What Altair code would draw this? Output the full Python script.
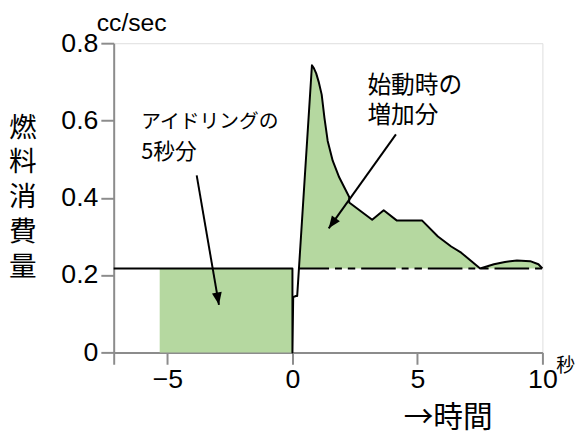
import altair as alt
import pandas as pd

IDLE = 0.217  # idling fuel flow (cc/sec)
X_MIN, X_MAX = -7.15, 10

# outline of the fuel-flow trace (seconds, cc/sec)
outline_x = [-7.15, 0.0, 0.0, 0.03, 0.14, 0.19, 0.78, 0.86, 0.95, 1.05, 1.17, 1.28, 1.41,
             1.61, 1.87, 2.27, 2.27, 3.19, 3.65, 4.18, 5.19, 5.82, 6.35, 6.75, 7.51,
             8.06, 8.5, 8.98, 9.51, 9.84, 10.0]
outline_y = [IDLE, IDLE, 0.0, 0.143, 0.146, 0.146, 0.743, 0.735, 0.722, 0.70, 0.667, 0.607, 0.547,
             0.496, 0.453, 0.402, 0.388, 0.343, 0.368, 0.341, 0.341, 0.30, 0.274, 0.258, 0.217,
             0.228, 0.234, 0.238, 0.236, 0.228, 0.217]

# start-up excess (filled above idle line)
excess_x = [0.26] + outline_x[6:]
excess_y = [IDLE] + outline_y[6:]

# 5 s of idling
idle_x = [-5.31, 0.0]

# dashed idle reference after start
base_x = [0.24, 10.0]

# arrows
arrow_x0 = [-3.83, 4.14]
arrow_y0 = [0.458, 0.564]
arrow_x1 = [-2.94, 1.45]
arrow_y1 = [0.123, 0.321]
arrow_ang = [170.2, 215.6]

# annotation texts
note_text = ["アイドリングの", "5秒分", "始動時の", "増加分"]
note_x = [-6.05, -6.05, 3.0, 3.0]
note_y = [0.596, 0.517, 0.69, 0.611]
note_size = [20, 22, 24, 24]

unit_text = ["cc/sec"]
unit_x = [-7.83]
unit_y = [0.8325]

sec_text = ["秒"]
sec_x = [10.93]
sec_y = [-0.035]

x_ticks = [X_MIN, -5, 0, 5, 10]
y_ticks = [0, 0.2, 0.4, 0.6, 0.8]

GREEN = "#b5d8a0"
AXIS_GRAY = "#8c8c8c"
JP = "Noto Sans CJK JP"
LAT = "Liberation Sans"

xs = alt.Scale(domain=[X_MIN, X_MAX], nice=False, zero=False)
ys = alt.Scale(domain=[0, 0.8], nice=False)

x_axis = alt.Axis(
    values=x_ticks, labelExpr="datum.value < -6 ? '' : format(datum.value, 'd')",
    grid=False, domainColor=AXIS_GRAY, domainWidth=2, tickColor=AXIS_GRAY, tickWidth=2,
    tickSize=12, labelPadding=3, labelFont=LAT, labelFontSize=27, labelColor="black",
    labelFlush=False, labelOverlap=False,
    title="→時間", titleFont=JP, titleFontSize=30, titleFontWeight="normal", titleColor="black",
    titleX=338, titleY=66, titleAlign="center", titleBaseline="middle", titleAnchor="start",
)
y_axis = alt.Axis(
    values=y_ticks, labelExpr="datum.value == 0 ? '0' : format(datum.value, '.1f')",
    grid=False, domainColor=AXIS_GRAY, domainWidth=2, tickColor=AXIS_GRAY, tickWidth=2,
    tickSize=13, labelPadding=3, labelFont=LAT, labelFontSize=27, labelColor="black",
    labelFlush=False, labelOverlap=False,
    title=["燃", "料", "消", "費", "量"], titleFont=JP, titleFontSize=28, titleFontWeight="normal",
    titleColor="black", titleAngle=0, titleX=-92.5, titleY=86, titleAlign="center",
    titleBaseline="middle", titleLineHeight=35.3, titleAnchor="start",
)

df_idle = pd.DataFrame({"x": idle_x, "y": [IDLE, IDLE], "y2": [0, 0]})
idle_area = alt.Chart(df_idle).mark_area(color=GREEN, opacity=1).encode(
    x=alt.X("x:Q", scale=xs, axis=x_axis),
    y=alt.Y("y:Q", scale=ys, axis=y_axis),
    y2="y2:Q",
)

df_exc = pd.DataFrame({"x": excess_x, "y": excess_y})
df_exc["y2"] = IDLE
excess_area = alt.Chart(df_exc).mark_area(color=GREEN, opacity=1).encode(
    x=alt.X("x:Q", scale=xs), y=alt.Y("y:Q", scale=ys), y2="y2:Q"
)

df_base = pd.DataFrame({"x": base_x, "y": [IDLE, IDLE]})
base_line = alt.Chart(df_base).mark_line(
    color="black", strokeWidth=2, strokeDash=[35, 6, 7, 6, 7.5, 6], strokeDashOffset=4
).encode(x=alt.X("x:Q", scale=xs), y=alt.Y("y:Q", scale=ys))

df_out = pd.DataFrame({"x": outline_x, "y": outline_y, "o": list(range(len(outline_x)))})
outline = alt.Chart(df_out).mark_line(color="black", strokeWidth=2, strokeJoin="round").encode(
    x=alt.X("x:Q", scale=xs), y=alt.Y("y:Q", scale=ys), order="o:Q"
)

df_arr = pd.DataFrame({"x0": arrow_x0, "y0": arrow_y0, "x1": arrow_x1, "y1": arrow_y1, "ang": arrow_ang})
arrow_shaft = alt.Chart(df_arr).mark_rule(color="black", strokeWidth=2).encode(
    x=alt.X("x0:Q", scale=xs), y=alt.Y("y0:Q", scale=ys), x2="x1:Q", y2="y1:Q"
)
arrow_head = alt.Chart(df_arr).mark_point(
    shape="M0,0 L0.5,1.25 L-0.5,1.25 Z", filled=True, color="black", opacity=1, size=400
).encode(
    x=alt.X("x1:Q", scale=xs), y=alt.Y("y1:Q", scale=ys), angle=alt.Angle("ang:Q", scale=None)
)

df_note = pd.DataFrame({"t": note_text, "x": note_x, "y": note_y, "s": note_size})
notes = alt.Chart(df_note).mark_text(
    font=JP, align="left", baseline="middle", color="black"
).encode(
    x=alt.X("x:Q", scale=xs), y=alt.Y("y:Q", scale=ys), text="t:N", size=alt.Size("s:Q", scale=None)
)

df_unit = pd.DataFrame({"t": unit_text, "x": unit_x, "y": unit_y})
unit = alt.Chart(df_unit).mark_text(
    font=LAT, fontSize=25, align="left", baseline="alphabetic", color="black"
).encode(x=alt.X("x:Q", scale=xs), y=alt.Y("y:Q", scale=ys), text="t:N")

df_sec = pd.DataFrame({"t": sec_text, "x": sec_x, "y": sec_y})
sec = alt.Chart(df_sec).mark_text(
    font=JP, fontSize=19, align="center", baseline="middle", color="black"
).encode(x=alt.X("x:Q", scale=xs), y=alt.Y("y:Q", scale=ys), text="t:N")

chart = alt.layer(
    idle_area, excess_area, base_line, outline, arrow_shaft, arrow_head, notes, unit, sec
).properties(
    width=434, height=313,
    padding={"left": 107, "top": 33, "right": 35, "bottom": 82},
    autosize=alt.AutoSizeParams(type="none"),
).configure_view(stroke=None).configure(background="white")

chart.save("out.html", embed_options={"renderer": "svg", "actions": False})
